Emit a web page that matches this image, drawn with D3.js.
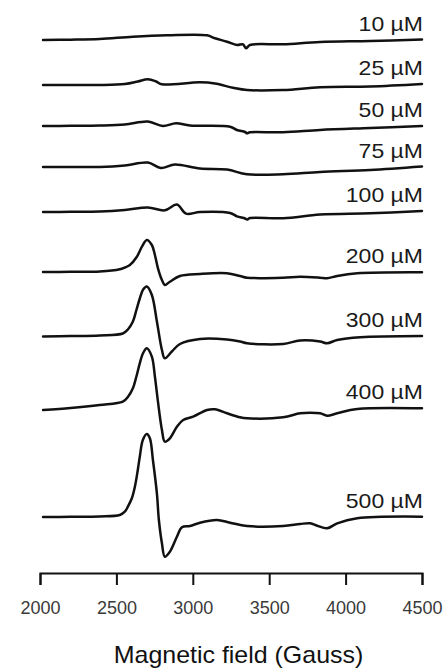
<!DOCTYPE html>
<html>
<head>
<meta charset="utf-8">
<script src="https://cdn.jsdelivr.net/npm/d3@7"></script>
<style>
  html, body { margin: 0; padding: 0; background: #fff; }
  svg { display: block; }
  text { font-family: "Liberation Sans", Arial, sans-serif; }
</style>
</head>
<body>
<svg id="chart" width="444" height="668"></svg>
<script>
// EPR spectra at increasing concentration, stacked with vertical offsets.
// Field in Gauss, signal in arbitrary units.
const concLabels = ["10 µM", "25 µM", "50 µM", "75 µM", "100 µM", "200 µM", "300 µM", "400 µM", "500 µM"];
const stackOffsets = [533, 488, 447, 406, 361, 301, 236.5, 164, 56];
const xTicks = [2000, 2500, 3000, 3500, 4000, 4500];

const field10 = [2020, 2200, 2391, 2608, 2831, 3093, 3145, 3224, 3289, 3329, 3348, 3374, 3591, 3833, 4161, 4500];
const signal10 = [0, 0.3, 1, 3.3, 4.7, 4.7, 1.7, -1.7, -5, -4.3, -8.3, -5, -4.3, -2, -1, 0.5];

const field25 = [2020, 2200, 2391, 2555, 2640, 2706, 2760, 2798, 3047, 3145, 3263, 3355, 3591, 3833, 4161, 4500];
const signal25 = [0, 0, 0, 1, 3.5, 5.7, 3.5, 0.7, 2.7, 1.5, -2.7, -5, -5, -2.3, -1.5, 1];

const field50 = [2020, 2200, 2391, 2555, 2706, 2804, 2890, 2982, 3244, 3289, 3342, 3355, 3374, 3591, 3833, 4161, 4500];
const signal50 = [0, 0.2, 0.5, 1.5, 4.5, 0, 2.7, 0.5, -0.7, -4, -6, -7.3, -6.3, -6.3, -4, -2, 0];

const field75 = [2020, 2200, 2391, 2555, 2706, 2791, 2883, 3047, 3224, 3355, 3591, 3833, 4161, 4500];
const signal75 = [0, 0, 0, 1.5, 4.4, -1, 2.4, -1.6, -2.6, -7.3, -7.3, -5, -3, 0.5];

const field100 = [2020, 2200, 2391, 2555, 2706, 2817, 2896, 2956, 3047, 3244, 3289, 3342, 3355, 3374, 3591, 3833, 4161, 4500];
const signal100 = [0, 0.2, 0.5, 2, 4.4, 1.7, 7.4, -1.6, 0, -1, -4.3, -6.5, -7.6, -6, -6.3, -2.6, -1.3, 1];

const field200 = [2020, 2200, 2391, 2522, 2555, 2588, 2634, 2667, 2699, 2732, 2752, 2772, 2798, 2817, 2850, 2916, 3047, 3224, 3309, 3355, 3591, 3702, 3833, 3879, 3945, 4076, 4500];
const signal200 = [0, 0.2, 0.5, 2.7, 4.5, 7, 15.3, 25.3, 32, 27, 17, 3.7, -8, -13, -9.7, -4, -2, -1.3, -4, -5.7, -5.7, -4.7, -5.7, -6.3, -4, -1.3, -0.3];

const field300 = [2020, 2200, 2391, 2542, 2575, 2608, 2630, 2653, 2675, 2699, 2732, 2765, 2798, 2817, 2863, 2916, 3047, 3224, 3309, 3355, 3591, 3702, 3833, 3879, 3945, 4096, 4500];
const signal300 = [0, 0.4, 1, 3, 7, 15, 26, 38, 47, 50, 41.5, 15, -13.5, -21.8, -15, -7.5, -2.5, -3, -5, -6.8, -7.5, -4, -5, -6.8, -3.5, -0.8, 0.5];

const field400 = [2020, 2200, 2391, 2542, 2575, 2608, 2630, 2653, 2675, 2699, 2732, 2752, 2772, 2798, 2817, 2850, 2896, 2937, 3002, 3093, 3145, 3224, 3309, 3355, 3591, 3702, 3768, 3833, 3879, 3945, 4076, 4500];
const signal400 = [-1, 1, 4, 7.3, 12, 20.7, 32, 45.7, 56, 60.7, 52.3, 32.3, 7.3, -21, -32.7, -29.3, -17.7, -11, -7.7, -1, -0.3, -4.3, -8.3, -9.3, -8.3, -4.3, -3.7, -4.3, -6.7, -4.3, 0, 0.7];

const field500 = [2020, 2200, 2391, 2522, 2555, 2575, 2601, 2621, 2640, 2653, 2673, 2699, 2719, 2739, 2765, 2778, 2798, 2817, 2850, 2896, 2929, 2982, 3047, 3158, 3244, 3355, 3591, 3702, 3768, 3814, 3879, 3945, 4076, 4500];
const signal500 = [0, 0.2, 0.5, 2, 5.3, 10.3, 18.7, 30.3, 47, 60.3, 77, 83, 78.7, 57, 23.7, -3, -26.3, -39.7, -34.7, -19.7, -10.3, -9, -5.7, -3, -5.7, -9, -9, -7, -6.3, -8.7, -11.3, -6.3, -1.3, 0.3];

const fields = [field10, field25, field50, field75, field100, field200, field300, field400, field500];
const signals = [signal10, signal25, signal50, signal75, signal100, signal200, signal300, signal400, signal500];

const spectra = concLabels.map((label, i) => ({
  label,
  offset: stackOffsets[i],
  points: fields[i].map((f, j) => ({ field: f, value: signals[i][j] }))
}));

const svg = d3.select("#chart");
const axisY = 573;

const x = d3.scaleLinear().domain([2000, 4500]).range([40, 422]);
const y = d3.scaleLinear().domain([0, 560]).range([axisY, axisY - 560]);

const line = d3.line()
  .x(d => x(d.field))
  .y(d => y(d.value))
  .curve(d3.curveCatmullRom.alpha(0.5));

const traces = svg.append("g").attr("class", "traces");

spectra.forEach(s => {
  const pts = s.points.map(p => ({ field: p.field, value: p.value + s.offset }));
  traces.append("path")
    .datum(pts)
    .attr("d", line)
    .attr("fill", "none")
    .attr("stroke", "#111")
    .attr("stroke-width", 2.5)
    .attr("stroke-linejoin", "round")
    .attr("stroke-linecap", "round");

  const last = pts[pts.length - 1];
  traces.append("text")
    .attr("transform", `translate(${x(4500) + 1},${y(last.value) - 9}) scale(1.15,1)`)
    .attr("text-anchor", "end")
    .attr("font-size", 20)
    .attr("fill", "#1a1a1a")
    .text(s.label);
});

// Field axis with ticks hanging below the line
const axis = d3.axisBottom(x)
  .tickValues(xTicks)
  .tickFormat(d3.format("d"))
  .tickSize(12)
  .tickPadding(16)
  .tickSizeOuter(12);

const gAxis = svg.append("g")
  .attr("transform", `translate(0,${axisY})`)
  .call(axis);

gAxis.select(".domain").attr("stroke", "#111").attr("stroke-width", 2);
gAxis.selectAll(".tick line").attr("stroke", "#111").attr("stroke-width", 2);
gAxis.selectAll(".tick text")
  .attr("font-size", 18)
  .attr("fill", "#3a3a3a")
  .attr("font-family", "'Liberation Sans', Arial, sans-serif");

svg.append("text")
  .attr("transform", "translate(238.5,663) scale(1.04,1)")
  .attr("text-anchor", "middle")
  .attr("font-size", 24)
  .attr("fill", "#111")
  .text("Magnetic field (Gauss)");
</script>
</body>
</html>
